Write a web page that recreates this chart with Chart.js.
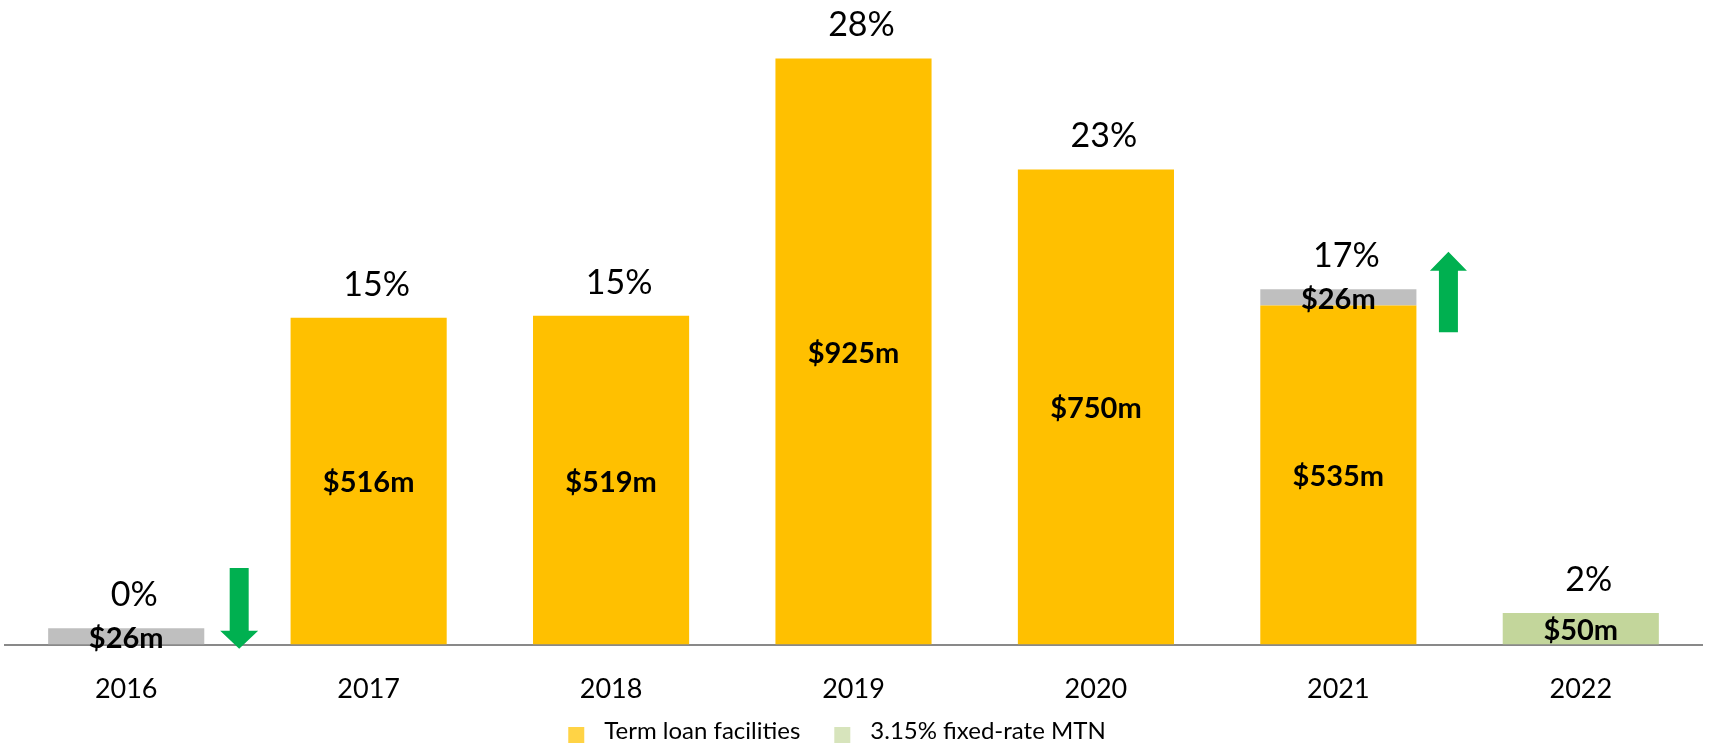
<!DOCTYPE html>
<html>
<head>
<meta charset="utf-8">
<script src="https://cdn.jsdelivr.net/npm/chart.js@4/dist/chart.umd.min.js"></script>
<style>
  html, body { margin: 0; padding: 0; background: #ffffff; }
  #wrap { width: 1709px; height: 743px; position: relative; }
</style>
</head>
<body>
<div id="wrap"><canvas id="c" width="1709" height="743"></canvas></div>
<script>
const categories = ['2016', '2017', '2018', '2019', '2020', '2021', '2022'];
const termLoan = [0, 516, 519, 925, 750, 535, 0];
const fixedMtn = [0, 0, 0, 0, 0, 0, 50];
const otherDebt = [26, 0, 0, 0, 0, 26, 0];
const shareLabels = ['0%', '15%', '15%', '28%', '23%', '17%', '2%'];
const seriesNames = ['Term loan facilities', '3.15% fixed-rate MTN', 'Other'];

const FONT = 'Lato, "Open Sans", "Liberation Sans", sans-serif';
const C_YELLOW = '#FFC000';
const C_GREEN = '#C3D69B';
const C_GREY = '#BFBFBF';
const C_ARROW = '#00B050';

const labelPlugin = {
  id: 'labels',
  afterDatasetsDraw(chart) {
    const ctx = chart.ctx;
    const xs = chart.scales.x, ys = chart.scales.y;
    ctx.save();
    // value labels
    ctx.fillStyle = '#000';
    ctx.font = 'bold 29px ' + FONT;
    ctx.textAlign = 'center';
    ctx.textBaseline = 'middle';
    chart.data.datasets.forEach((ds, di) => {
      const meta = chart.getDatasetMeta(di);
      ds.data.forEach((v, i) => {
        if (!v) return;
        const el = meta.data[i];
        const yc = (el.y + el.base) / 2 + 2;
        ctx.fillText('$' + v + 'm', el.x, yc);
      });
    });
    // share labels
    ctx.font = '34px ' + FONT;
    categories.forEach((c, i) => {
      const total = termLoan[i] + fixedMtn[i] + otherDebt[i];
      const x = xs.getPixelForValue(i) + 8;
      const y = ys.getPixelForValue(total) - 33;
      ctx.fillText(shareLabels[i], x, y);
    });
    // arrows
    const step = xs.getPixelForValue(1) - xs.getPixelForValue(0);
    function arrow(cx, yTail, yTip, shaftW, headW, headL) {
      const dir = yTip > yTail ? 1 : -1;
      const yHead = yTip - dir * headL;
      ctx.beginPath();
      ctx.moveTo(cx - shaftW / 2, yTail);
      ctx.lineTo(cx + shaftW / 2, yTail);
      ctx.lineTo(cx + shaftW / 2, yHead);
      ctx.lineTo(cx + headW / 2, yHead);
      ctx.lineTo(cx, yTip);
      ctx.lineTo(cx - headW / 2, yHead);
      ctx.lineTo(cx - shaftW / 2, yHead);
      ctx.closePath();
      ctx.fill();
    }
    ctx.fillStyle = C_ARROW;
    arrow(xs.getPixelForValue(0) + 0.466 * step, ys.getPixelForValue(121), ys.getPixelForValue(-6.5), 19, 38, 18);
    arrow(xs.getPixelForValue(5) + 0.454 * step, ys.getPixelForValue(493), ys.getPixelForValue(620), 19, 37, 19);
    // legend
    const items = [
      { text: seriesNames[0], color: '#FFD345' },
      { text: seriesNames[1], color: '#D7E4BC' }
    ];
    ctx.font = '24px ' + FONT;
    ctx.textAlign = 'left';
    const box = 16, gap = 20, spacing = 34;
    let total = 0;
    items.forEach((it, k) => { total += box + gap + ctx.measureText(it.text).width + (k ? spacing : 0); });
    let x = 837 - total / 2;
    const yMid = 731;
    items.forEach((it, k) => {
      if (k) x += spacing;
      ctx.fillStyle = it.color;
      ctx.fillRect(x, 727, box, box);
      x += box + gap;
      ctx.fillStyle = '#000';
      ctx.fillText(it.text, x, yMid);
      x += ctx.measureText(it.text).width;
    });
    ctx.restore();
  }
};

new Chart(document.getElementById('c'), {
  type: 'bar',
  data: {
    labels: categories,
    datasets: [
      { label: seriesNames[0], data: termLoan, backgroundColor: C_YELLOW },
      { label: seriesNames[1], data: fixedMtn, backgroundColor: C_GREEN },
      { label: seriesNames[2], data: otherDebt, backgroundColor: C_GREY }
    ]
  },
  options: {
    responsive: false,
    animation: false,
    layout: { padding: { left: 5, right: 7, top: 11, bottom: 10 } },
    datasets: { bar: { categoryPercentage: 1, barPercentage: 0.644 } },
    scales: {
      x: {
        stacked: true,
        grid: { display: false, drawTicks: false },
        border: { display: true, color: '#898989', width: 2 },
        ticks: { color: '#000', padding: 28, font: { family: FONT, size: 27 } }
      },
      y: {
        stacked: true,
        display: false,
        min: 0,
        max: 1000
      }
    },
    plugins: {
      legend: { display: false },
      tooltip: { enabled: false }
    }
  },
  plugins: [labelPlugin]
});
</script>
</body>
</html>
